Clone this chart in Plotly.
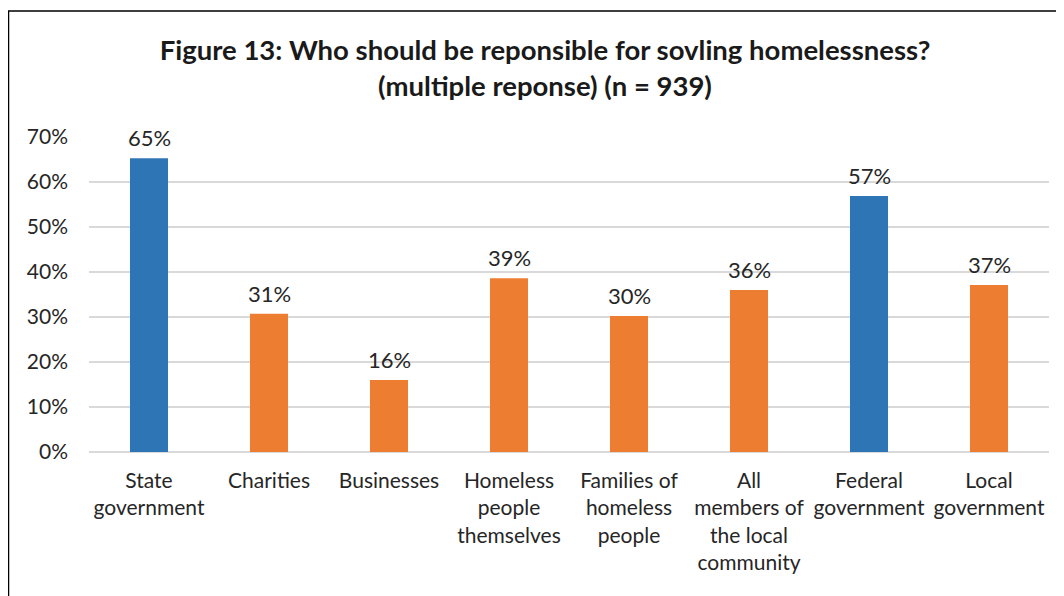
import plotly.graph_objects as go

categories = [
    "State<br>government",
    "Charities",
    "Businesses",
    "Homeless<br>people<br>themselves",
    "Families of<br>homeless<br>people",
    "All<br>members of<br>the local<br>community",
    "Federal<br>government",
    "Local<br>government",
]
values = [65.3, 30.7, 16.0, 38.6, 30.2, 36.0, 56.9, 37.1]
is_higher_gov = [True, False, False, False, False, False, True, False]
y_ticks = [0, 10, 20, 30, 40, 50, 60, 70]

BLUE = "#2E75B6"
ORANGE = "#ED7D31"
TEXT = "#262626"
FONT = "Lato, 'Open Sans', sans-serif"

colors = [BLUE if g else ORANGE for g in is_higher_gov]
labels = [f"{v:.0f}%" for v in values]
y_tick_text = [f"{t}%" for t in y_ticks]

fig = go.Figure(
    go.Bar(
        x=categories,
        y=values,
        marker=dict(color=colors, line=dict(width=0)),
        hoverinfo="skip",
    )
)

annotations = [
    dict(
        x=c,
        y=v,
        xref="x",
        yref="y",
        text=t,
        showarrow=False,
        yanchor="bottom",
        yshift=5,
        font=dict(size=22, color=TEXT, family=FONT),
    )
    for c, v, t in zip(categories, values, labels)
]

# page body has an 8px margin, so the figure is drawn 8px in from the window edge
W, H = 1056, 588
L, R, T, B = 81, 15, 129, 144
pw, ph = W - L - R, H - T - B

fig.update_layout(
    width=W,
    height=H,
    margin=dict(l=L, r=R, t=T, b=B, autoexpand=False),
    paper_bgcolor="white",
    plot_bgcolor="white",
    bargap=0.683,
    showlegend=False,
    font=dict(family=FONT, color=TEXT, size=21),
    title=dict(
        text="<b>Figure 13: Who should be reponsible for sovling homelessness?<br>(multiple reponse) (n = 939)</b>",
        x=537 / W,
        xanchor="center",
        y=1 - 52 / H,
        yanchor="top",
        font=dict(size=27.5, color="#1a1a1a", family=FONT),
    ),
    xaxis=dict(
        showgrid=False,
        showline=False,
        ticks="",
        tickfont=dict(size=21, color=TEXT),
        ticklabelstandoff=14,
        automargin=False,
    ),
    yaxis=dict(
        range=[0, 70],
        tickvals=y_ticks,
        ticktext=y_tick_text,
        showgrid=True,
        gridcolor="#D9D9D9",
        gridwidth=1.5,
        zeroline=True,
        zerolinecolor="#D9D9D9",
        zerolinewidth=1.5,
        showline=False,
        ticks="",
        tickfont=dict(size=21, color=TEXT),
        ticklabelstandoff=20,
        automargin=False,
    ),
    annotations=annotations,
    shapes=[
        dict(
            type="rect",
            xref="paper",
            yref="paper",
            x0=(0.5 - L) / pw,
            x1=(W + 10 - L) / pw,
            y0=-(H + 10 - (H - B)) / ph,
            y1=((H - B) - 3) / ph,
            line=dict(color="#000000", width=1.5),
            fillcolor="rgba(0,0,0,0)",
            layer="below",
        )
    ],
)

fig.write_html("out.html")
